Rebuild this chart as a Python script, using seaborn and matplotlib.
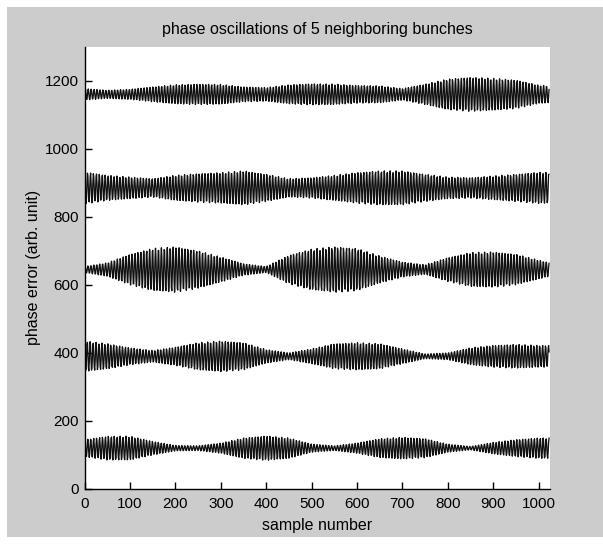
import numpy as np
import pandas as pd
import matplotlib
matplotlib.use("Agg")
import matplotlib.pyplot as plt
from matplotlib.patches import Rectangle
import seaborn as sns

# Turn-by-turn phase samples
n_samples = 1024
tune = 0.1545  # oscillation frequency in cycles per sample

# Mean phase offset of each bunch
bunch_offsets = [1160, 885, 645, 390, 120]
bunch_phase = [0.3, 1.7, 0.9, 2.4, 1.2]

# Oscillation amplitude envelopes, read every 50 samples (last point at 1023)
env_samples = [0, 50, 100, 150, 200, 250, 300, 350, 400, 450, 500,
               550, 600, 650, 700, 750, 800, 850, 900, 950, 1000, 1023]
env_bunch1 = [17, 12, 15, 22, 28, 30, 29, 22, 20, 28, 31,
              30, 26, 25, 17, 30, 45, 50, 47, 42, 27, 25]
env_bunch2 = [47, 37, 32, 27, 37, 42, 45, 50, 40, 27, 30,
              37, 45, 50, 50, 40, 32, 30, 35, 40, 46, 45]
env_bunch3 = [9, 20, 45, 62, 67, 55, 37, 17, 9, 42, 60,
              67, 62, 40, 22, 14, 35, 50, 52, 45, 28, 20]
env_bunch4 = [45, 37, 25, 17, 27, 40, 45, 40, 20, 10, 22,
              37, 40, 37, 22, 7, 10, 25, 32, 35, 32, 32]
env_bunch5 = [25, 35, 35, 20, 8, 7, 15, 30, 36, 30, 12,
              7, 15, 28, 32, 28, 12, 5, 17, 25, 30, 30]
envelopes = [env_bunch1, env_bunch2, env_bunch3, env_bunch4, env_bunch5]

sample = np.arange(n_samples)
frames = []
for k, (off, ph, env) in enumerate(zip(bunch_offsets, bunch_phase, envelopes)):
    amp = np.interp(sample, env_samples, env)
    phase_err = off + amp * np.sin(2 * np.pi * tune * sample + ph)
    frames.append(pd.DataFrame({"sample": sample, "phase": phase_err,
                                "bunch": k + 1}))
df = pd.concat(frames, ignore_index=True)

sns.set_theme(style="white")
plt.rcParams["font.family"] = ["Liberation Sans", "DejaVu Sans"]
plt.rcParams["font.size"] = 11

grey = "#cccccc"
fig = plt.figure(figsize=(6.03, 5.45), dpi=100)
fig.patch.set_facecolor("white")
fig.patches.append(Rectangle((7 / 603, 8 / 545), 1 - 7 / 603, 530 / 545,
                             transform=fig.transFigure, facecolor=grey,
                             edgecolor="none", zorder=-10))

ax = fig.add_axes([84.7 / 603, 1 - 489 / 545, (549.5 - 84.7) / 603,
                   (489 - 46.7) / 545])
ax.set_facecolor("white")

sns.lineplot(data=df, x="sample", y="phase", units="bunch", estimator=None,
             color="#111111", linewidth=0.95, ax=ax, legend=False)

ax.set_xlim(0, 1024)
ax.set_ylim(0, 1300)
ax.set_xticks(np.arange(0, 1001, 100))
ax.set_yticks(np.arange(0, 1201, 200))
ax.tick_params(direction="in", length=5, width=1, colors="black",
               labelsize=11, bottom=True, left=True)
ax.tick_params(axis="x", pad=6)
ax.tick_params(axis="y", pad=4)
for side in ["top", "right"]:
    ax.spines[side].set_visible(False)
for side in ["left", "bottom"]:
    ax.spines[side].set_color("black")
    ax.spines[side].set_linewidth(1.0)

ax.set_title("phase oscillations of 5 neighboring bunches", fontsize=11.5,
             pad=9, color="black")
ax.set_xlabel("sample number", fontsize=11.5, color="black", labelpad=5)
ax.set_ylabel("phase error (arb. unit)", fontsize=11.5, color="black",
              labelpad=3)

fig.savefig("out.png", dpi=100, facecolor=fig.get_facecolor())
